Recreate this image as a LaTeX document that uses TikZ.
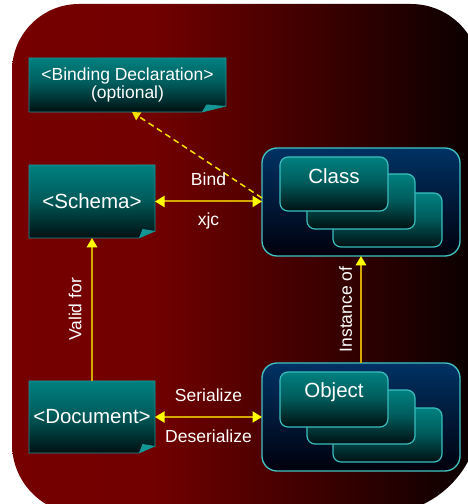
\documentclass[tikz,border=0pt]{standalone}
\usepackage{fontspec}
\setmainfont{Liberation Sans}
\usetikzlibrary{arrows.meta}

\definecolor{bgred}{RGB}{118,0,0}
\definecolor{bgred2}{RGB}{114,0,0}
\definecolor{bgdark}{RGB}{8,0,0}
\definecolor{tealtop}{RGB}{0,128,128}
\definecolor{tealmid}{RGB}{0,92,92}
\definecolor{tealbot}{RGB}{0,16,18}
\definecolor{tealedge}{RGB}{24,150,150}
\definecolor{flapcol}{RGB}{20,150,150}
\definecolor{grptop}{RGB}{0,50,100}
\definecolor{grpbot}{RGB}{0,0,12}
\definecolor{grpedge}{RGB}{64,196,196}
\definecolor{cardedge}{RGB}{56,190,190}
\definecolor{linegold}{RGB}{212,168,0}
\definecolor{tipyellow}{RGB}{255,255,0}
\definecolor{dashyellow}{RGB}{245,225,0}

% background: dark red fading to black towards the right
\pgfdeclarehorizontalshading{bgshade}{100bp}{color(0bp)=(bgred); color(25bp)=(bgred); color(40bp)=(bgred2); color(75bp)=(bgdark); color(100bp)=(bgdark)}
% document boxes and cards: teal fading to black towards the bottom
\pgfdeclareverticalshading{tealshade}{100bp}{color(0bp)=(tealbot); color(25bp)=(tealbot); color(52bp)=(tealmid); color(75bp)=(tealtop); color(100bp)=(tealtop)}
% group frames: navy fading to black
\pgfdeclareverticalshading{grpshade}{100bp}{color(0bp)=(grpbot); color(25bp)=(grpbot); color(75bp)=(grptop); color(100bp)=(grptop)}

\newcommand\bigtxt{\fontsize{20.5}{24}\selectfont}
\newcommand\smalltxt{\fontsize{17.5}{18.5}\selectfont}

\tikzset{
  docbox/.style={shading=tealshade, draw=tealedge, line width=0.8pt},
  flap/.style={fill=flapcol},
  grpbox/.style={shading=grpshade, draw=grpedge, line width=1.3pt, rounded corners=15pt},
  card/.style={shading=tealshade, draw=cardedge, line width=1.2pt, rounded corners=8pt},
  area/.style={inner sep=0pt, outer sep=0pt, text=white, align=center},
  lbl/.style={text=white, font=\smalltxt},
  link/.style={draw=linegold, line width=2pt},
  biarrow/.style={link, {Triangle[length=9.5pt,width=11pt,color=tipyellow]}-{Triangle[length=9.5pt,width=11pt,color=tipyellow]}},
  uparrow/.style={link, -{Triangle[length=9.5pt,width=10.5pt,color=tipyellow]}},
  dasharrow/.style={draw=dashyellow, line width=1.5pt, dash pattern=on 6pt off 4pt, -{Triangle[length=8pt,width=9pt,color=dashyellow]}}
}

\begin{document}
\begin{tikzpicture}[x=1pt,y=1pt]
\useasboundingbox (0,0) rectangle (468,504);

% backdrop
\shade[shading=bgshade] (82,-10) -- (380,-10) arc[start angle=-90,end angle=0,radius=100]
  -- (480,431) arc[start angle=0,end angle=90,radius=69]
  -- (79,500) arc[start angle=90,end angle=180,radius=67]
  -- (12,60) arc[start angle=180,end angle=270,radius=70] -- cycle;

% document boxes with folded corner
\shade[docbox] (29,446) -- (226,446) -- (226,398) -- (202,392) -- (29,392) -- cycle;
\fill[flap] (202,392) -- (206.5,399.5) -- (226,398) -- cycle;
\shade[docbox] (29,339) -- (155,339) -- (155,273) -- (139,266) -- (29,266) -- cycle;
\fill[flap] (139,266) -- (142.5,275) -- (155,273) -- cycle;
\shade[docbox] (29,123) -- (155,123) -- (155,58) -- (139,51) -- (29,51) -- cycle;
\fill[flap] (139,51) -- (142.5,60) -- (155,58) -- cycle;

% class group
\shade[grpbox] (262,248) rectangle (460,356);
\shade[card] (333,257) rectangle (442,311);
\shade[card] (307,275) rectangle (415,330);
\shade[card] (280,293) rectangle (388,347);

% object group
\shade[grpbox] (262,33) rectangle (460,141);
\shade[card] (333,42) rectangle (442,96);
\shade[card] (307,60) rectangle (415,114);
\shade[card] (280,77) rectangle (388,132);

% named nodes carrying the texts
\node[area, font=\smalltxt, minimum width=197pt, minimum height=54pt] (bind) at (127.5,419) {<Binding Declaration>\\(optional)};
\node[area, font=\bigtxt, minimum width=126pt, minimum height=73pt] (schema) at (92,302.5) {<Schema>};
\node[area, font=\bigtxt, minimum width=126pt, minimum height=72pt] (doc) at (92,87) {<Document>};
\node[area, minimum width=198pt, minimum height=108pt] (cls) at (361,302) {};
\node[area, minimum width=198pt, minimum height=108pt] (obj) at (361,87) {};
\node[area, font=\bigtxt] (clslbl) at (334,328) {Class};
\node[area, font=\bigtxt] (objlbl) at (334,112) {Object};

% connectors
\draw[dasharrow] ([yshift=4pt]cls.west) -- ([xshift=4.5pt]bind.south);
\draw[biarrow] (schema.east) -- (schema.east -| cls.west)
  node[lbl, midway, above=11.4pt] {Bind}
  node[lbl, midway, below=7pt] {xjc};
\draw[biarrow] (doc.east) -- (doc.east -| obj.west)
  node[lbl, midway, above=11pt] {Serialize}
  node[lbl, midway, below=8.4pt] {Deserialize};
\draw[uparrow] (doc.north) -- (schema.south)
  node[lbl, midway, sloped, above=6pt] {Valid for};
\draw[uparrow] (obj.north) -- (cls.south)
  node[lbl, midway, sloped, above=4.5pt] {Instance of};
\end{tikzpicture}
\end{document}
